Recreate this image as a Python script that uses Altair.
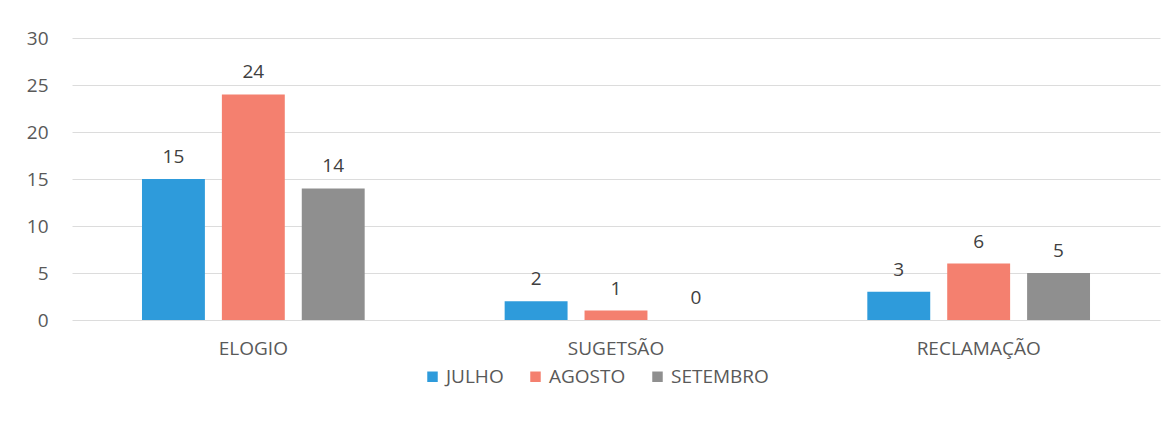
import altair as alt
import pandas as pd

categories = ["ELOGIO", "SUGETSÃO", "RECLAMAÇÃO"]
months = ["JULHO", "AGOSTO", "SETEMBRO"]
julho = [15, 2, 3]
agosto = [24, 1, 6]
setembro = [14, 0, 5]
colors = ["#2E9BDB", "#F4806F", "#8F8F8F"]

rows = []
for i, c in enumerate(categories):
    for m, vals in zip(months, [julho, agosto, setembro]):
        rows.append({"cat": c, "month": m, "value": vals[i]})
df = pd.DataFrame(rows)

FONT = "Open Sans"
FS = 19

base = alt.Chart(df).encode(
    x=alt.X("cat:N", sort=categories, title=None,
            scale=alt.Scale(paddingInner=0, paddingOuter=0),
            axis=alt.Axis(labelAngle=0, domain=False, ticks=False, labelPadding=19,
                          labelFontSize=FS, labelColor="#595959", labelFont=FONT)),
    xOffset=alt.XOffset("month:N", sort=months,
                        scale=alt.Scale(paddingInner=0.2125, paddingOuter=0.876)),
)

bars = base.mark_bar().encode(
    y=alt.Y("value:Q", title=None,
            scale=alt.Scale(domain=[0, 30]),
            axis=alt.Axis(values=[0, 5, 10, 15, 20, 25, 30], domain=False, ticks=False,
                          labelPadding=24, labelFontSize=FS, labelColor="#595959",
                          labelFont=FONT, gridColor="#DCDCDC")),
    color=alt.Color("month:N", sort=months,
                    scale=alt.Scale(domain=months, range=colors),
                    legend=alt.Legend(title=None, orient="none", direction="horizontal",
                                      legendX=351, legendY=329, symbolType="square",
                                      symbolSize=110, symbolStrokeWidth=0,
                                      labelFontSize=FS, labelColor="#595959",
                                      labelFont=FONT, columnPadding=22, labelOffset=4)),
)

labels = base.mark_text(dy=-16, baseline="alphabetic", fontSize=FS, color="#404040",
                        font=FONT).encode(
    y=alt.Y("value:Q"),
    text=alt.Text("value:Q"),
)

chart = (bars + labels).properties(
    width=1088, height=282,
    background="#FFFFFF",
    autosize=alt.AutoSizeParams(type="none"),
    padding={"left": 64, "top": 30, "right": 8, "bottom": 100},
).configure_view(strokeWidth=0, stroke="transparent")

chart.save("out.html", embed_options={"renderer": "svg", "actions": False})
